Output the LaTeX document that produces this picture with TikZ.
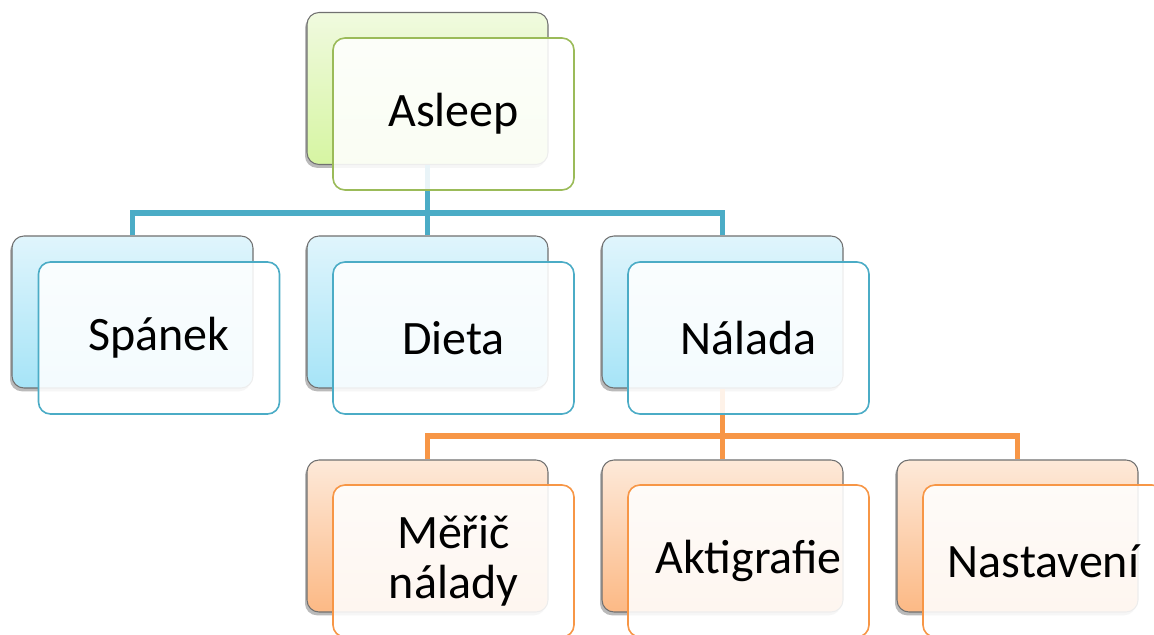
\documentclass[tikz,border=0pt]{standalone}
\usepackage{fontspec}
\setmainfont{Carlito}
\usetikzlibrary{shadows}
\definecolor{gline}{HTML}{9BBB59}
\definecolor{bline}{HTML}{4BACC6}
\definecolor{oline}{HTML}{F79646}
\definecolor{gtop}{HTML}{F0FADF}
\definecolor{gbot}{HTML}{D6F5A2}
\definecolor{btop}{HTML}{E0F5FC}
\definecolor{bbot}{HTML}{A6E4F7}
\definecolor{otop}{HTML}{FDE9D9}
\definecolor{obot}{HTML}{FCB985}
\definecolor{edgegray}{HTML}{707070}
\tikzset{
  boxbase/.style={rectangle, rounded corners=9pt, minimum width=180.75pt, minimum height=114pt, inner sep=0pt, align=center},
  backbox/.style={boxbase, draw=edgegray, line width=0.8pt, top color=#1top, bottom color=#1bot,
    drop shadow={shadow xshift=-1.5pt, shadow yshift=-2.5pt, opacity=0.45, fill=black!60}},
  frontbox/.style={boxbase, draw=#1line, line width=1.2pt, fill=white, fill opacity=0.88, text opacity=1,
    font=\fontsize{36}{37}\selectfont},
  conn/.style={line width=3.8pt, draw=#1line},
}
\begin{document}
\begin{tikzpicture}[x=0.75pt, y=-0.75pt]
\clip (0,0) rectangle (1154,635);
\fill[white] (0,0) rectangle (1154,635);
% back boxes
\node[backbox=g] (asleepB) at (427.5,88.5) {};
\node[backbox=b] (spanekB) at (132.5,312) {};
\node[backbox=b] (dietaB) at (427.5,312) {};
\node[backbox=b] (naladaB) at (722.5,312) {};
\node[backbox=o] (mericB) at (427.5,536) {};
\node[backbox=o] (aktiB) at (722.5,536) {};
\node[backbox=o] (nastB) at (1017.5,536) {};
% connectors
\coordinate (bus1) at (427.5,213);
\coordinate (bus2) at (722.5,436);
\draw[conn=b] (asleepB.south) -- (bus1);
\draw[conn=b] (spanekB.north) |- (bus1) -| (naladaB.north);
\draw[conn=b] (dietaB.north) -- (bus1);
\draw[conn=o] (naladaB.south) -- (bus2);
\draw[conn=o] (mericB.north) |- (bus2) -| (nastB.north);
\draw[conn=o] (aktiB.north) -- (bus2);
% front boxes
\node[frontbox=g] (asleep) at (453.5,114) {Asleep};
\node[frontbox=b] (spanek) at (159,338) {Spánek};
\node[frontbox=b] (dieta) at (453.5,338) {Dieta};
\node[frontbox=b] (nalada) at (748.5,338) {Nálada};
\node[frontbox=o] (meric) at (453.5,561) {Měřič\\nálady};
\node[frontbox=o] (akti) at (748.5,561) {Aktigrafie};
\node[frontbox=o] (nast) at (1043.5,561) {Nastavení};
\end{tikzpicture}
\end{document}
